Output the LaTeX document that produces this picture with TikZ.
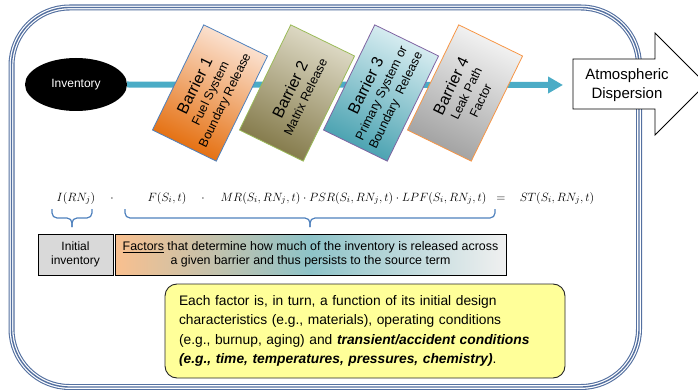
\documentclass[tikz,border=0pt]{standalone}
\usepackage[no-math]{fontspec}
\setmainfont{Liberation Sans}
\usetikzlibrary{arrows.meta,shapes.geometric}

\definecolor{framecol}{RGB}{84,112,160}
\definecolor{flowcol}{RGB}{75,172,198}
\definecolor{braceblue}{RGB}{79,129,189}
\definecolor{initgrey}{RGB}{217,217,217}
\definecolor{noteyellow}{RGB}{255,255,153}
\definecolor{faclft}{RGB}{249,192,143}
\definecolor{facmid}{RGB}{142,195,200}
\definecolor{facrgt}{RGB}{240,240,240}

\tikzset{
  barrier/.style n args={3}{draw=#3, line width=0.8pt, top color=#1, bottom color=#2,
    shading angle=-26, minimum width=117pt, minimum height=71pt, inner sep=1pt,
    rotate=64, align=center, font=\fontsize{12.5}{16}\selectfont},
  eq/.style={anchor=base, inner sep=0pt, font=\fontsize{12.5}{14}\selectfont},
  curly/.style={draw=braceblue, line width=1.2pt, rounded corners=5pt},
  infobox/.style={draw, line width=0.8pt, minimum height=41pt, inner sep=1pt,
    align=center, font=\fontsize{12}{14.5}\selectfont},
}
\newcommand{\bartitle}[1]{{\fontsize{16}{18}\selectfont #1}}

\begin{document}
\begin{tikzpicture}[x=1pt,y=-1pt]
\useasboundingbox (0,0) rectangle (698,390);
\draw[draw=framecol, line width=1.4pt, rounded corners=58pt,
  preaction={draw=framecol, line width=6pt},
  preaction={draw=white, line width=3.8pt}] (11.5,7.5) rectangle (639,387);

\node[ellipse, fill=black, text=white, minimum width=102pt, minimum height=53pt,
  font=\fontsize{12}{14}\selectfont] (inv) at (76,84.5) {Inventory};
\coordinate (tip) at (563,85);
\draw[flowcol, line width=6pt, -{Triangle[length=15pt,width=16pt]}] (inv.east) -- (tip);

\node[barrier={{rgb,255:red,252;green,230;blue,216}}{{rgb,255:red,228;green,108;blue,10}}{braceblue}] (bar1) at (210,93)
  {\bartitle{Barrier 1}\\Fuel System\\Boundary Release};
\node[barrier={{rgb,255:red,224;green,220;blue,200}}{{rgb,255:red,130;green,120;blue,72}}{{rgb,255:red,155;green,187;blue,89}}] (bar2) at (297,93)
  {\bartitle{Barrier 2}\\Matrix Release};
\node[barrier={{rgb,255:red,220;green,239;blue,243}}{{rgb,255:red,70;green,160;blue,175}}{{rgb,255:red,128;green,100;blue,162}}] (bar3) at (381,93)
  {\bartitle{Barrier 3}\\Primary System or\\Boundary\ \ Release};
\node[barrier={{rgb,255:red,245;green,245;blue,245}}{{rgb,255:red,160;green,160;blue,160}}{{rgb,255:red,247;green,150;blue,70}}] (bar4) at (465,93)
  {\bartitle{Barrier 4}\\Leak Path\\Factor};

\draw[fill=white, line width=0.9pt] (573,59) -- (655,59) -- (655,33) -- (706,84)
  -- (655,135) -- (655,109) -- (573,109) -- cycle;
\node[align=center, font=\fontsize{15}{19}\selectfont] (atm) at (627,85) {Atmospheric\\Dispersion};

\node[eq] (eqI) at (76,201) {$I\bigl(RN_j\bigr)$};
\node[eq] (dot1) at (112,201) {$\cdot$};
\node[eq] (eqF) at (167,201) {$F(S_i,t)$};
\node[eq] (dot2) at (203,201) {$\cdot$};
\node[eq] (eqR) at (353.5,201) {$MR\bigl(S_i,RN_j,t\bigr)\cdot PSR(S_i,RN_j,t)\cdot LPF(S_i,RN_j,t)$};
\node[eq] (eqeq) at (501,201) {$=$};
\node[eq] (eqST) at (557,201) {$ST\bigl(S_i,RN_j,t\bigr)$};

\draw[curly] (52,209) |- (72,218) -- (72,227);
\draw[curly] (92,209) |- (72,218) -- (72,227);
\draw[curly] (125,209) |- (310,218) -- (310,227);
\draw[curly] (495,209) |- (310,218) -- (310,227);

\node[infobox, fill=initgrey, minimum width=75pt] (init) at (75.5,254.5) {Initial\\inventory};
\node[infobox, left color=faclft, right color=facrgt, middle color=facmid,
  minimum width=391pt, font=\fontsize{12.4}{14.5}\selectfont] (fac) at (310.5,254.5)
  {\underline{Factors} that determine how much of the inventory is released across\\
   a given barrier and thus persists to the source term};

\node[draw=black!85, line width=0.9pt, fill=noteyellow, rounded corners=12pt,
  minimum width=400pt, minimum height=94pt, text width=372pt, inner xsep=14pt,
  align=left, font=\fontsize{13.8}{19.3}\selectfont] (note) at (365,331)
  {Each factor is, in turn, a function of its initial design\\
   characteristics (e.g., materials), operating conditions\\
   (e.g., burnup, aging) and \textbf{\textit{transient/accident conditions}}\\
   \textbf{\textit{(e.g., time, temperatures, pressures, chemistry)}}.};
\end{tikzpicture}
\end{document}
